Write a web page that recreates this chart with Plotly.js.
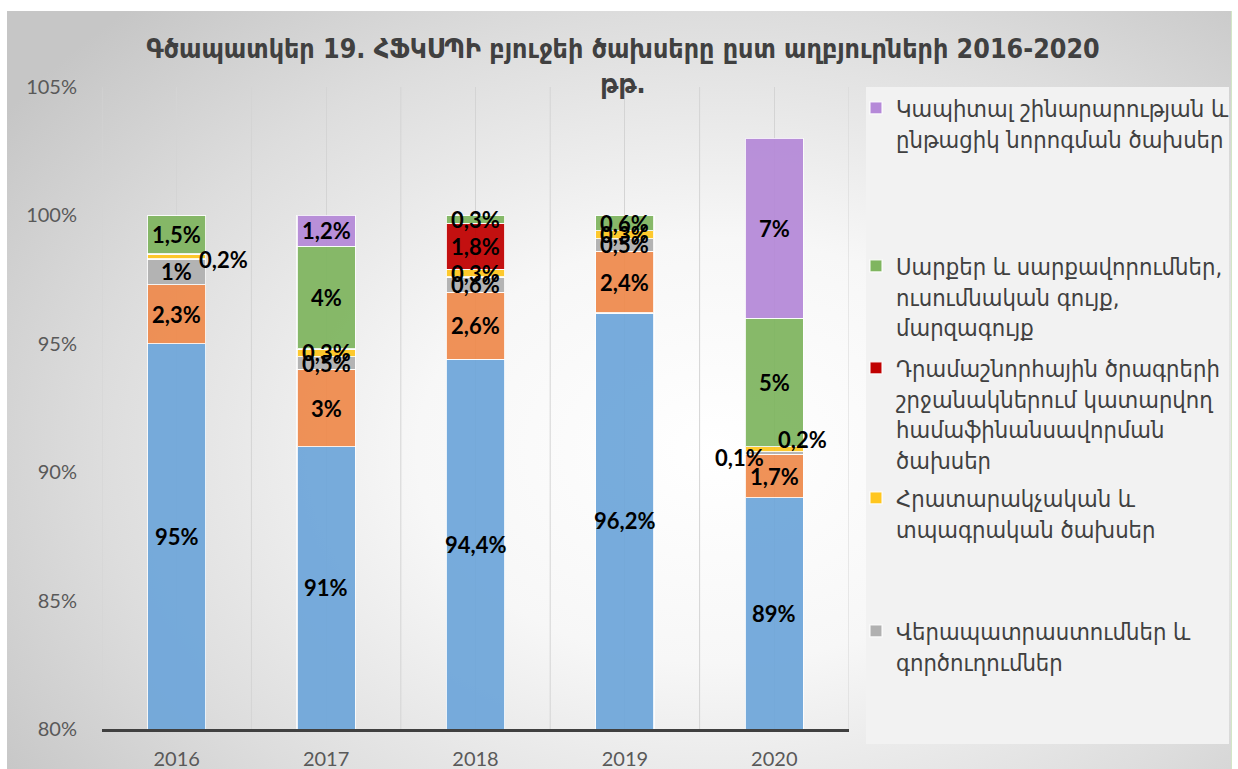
<!DOCTYPE html>
<html>
<head>
<meta charset="utf-8">
<script src="https://cdn.plot.ly/plotly-3.0.1.min.js"></script>
<style>
  html, body { margin: 0; padding: 0; background: #ffffff; }
  #wrap { position: relative; width: 1238px; height: 769px; overflow: hidden; }
  #bg { position: absolute; left: 7px; top: 11px; width: 1224px; height: 758px;
        background: radial-gradient(ellipse 70% 80% at 58% 58%, #ffffff 0%, #f7f7f7 35%, #dddddd 72%, #c6c6c6 100%);
        border-right: 1px solid #d3e6c6; }
  #chart { position: absolute; left: 0; top: 0; width: 1238px; height: 769px; }
</style>
</head>
<body>
<div id="wrap"><div id="bg"></div><div id="chart"></div></div>
<script>
// ---- data ----
const years = ['2016', '2017', '2018', '2019', '2020'];
const seriesNames = [
  'Հիմնական ծախսեր',
  'Այլ ծախսեր',
  'Վերապատրաստումներ և<br>գործուղումներ',
  'Հրատարակչական և<br>տպագրական ծախսեր',
  'Դրամաշնորհային ծրագրերի<br>շրջանակներում կատարվող<br>համաֆինանսավորման<br>ծախսեր',
  'Սարքեր և սարքավորումներ,<br>ուսումնական գույք,<br>մարզագույք',
  'Կապիտալ շինարարության և<br>ընթացիկ նորոգման ծախսեր'
];
const blueVals   = [95, 91, 94.4, 96.2, 89];
const orangeVals = [2.3, 3, 2.6, 2.4, 1.7];
const grayVals   = [1, 0.5, 0.6, 0.5, 0.1];
const yellowVals = [0.2, 0.3, 0.3, 0.3, 0.2];
const redVals    = [0, 0, 1.8, 0, 0];
const greenVals  = [1.5, 4, 0.3, 0.6, 5];
const purpleVals = [0, 1.2, 0, 0, 7];
const yRange = [80, 105];

// ---- styles ----
const allVals = [blueVals, orangeVals, grayVals, yellowVals, redVals, greenVals, purpleVals];
const colors = ['#6ea6da', '#ef8a4c', '#b0b0b0', '#ffc61e', '#c00000', '#7fb55f', '#b589d8'];
const legendIds = [null, null, 'legend5', 'legend4', 'legend3', 'legend2', 'legend'];
// label offsets in px: key "seriesIndex|yearIndex" -> [xshift, yshift]
const labelShift = { '3|0': [47, -3], '2|4': [-35, -5], '3|4': [28, 10] };

const armFont = '"DejaVu Sans Condensed", "DejaVu Sans", sans-serif';
const numFont = 'Lato, "Open Sans", sans-serif';

const traces = allVals.map((vals, i) => ({
  type: 'bar',
  x: years,
  y: vals,
  name: seriesNames[i],
  showlegend: legendIds[i] !== null,
  legend: legendIds[i] || 'legend',
  marker: { color: colors[i], opacity: 0.93, line: { color: 'rgba(255,255,255,0.85)', width: 1.2 } },
  hoverinfo: 'skip'
}));

// data labels: centred in the visible part of each stacked segment
const annotations = [];
const cum = years.map(() => 0);
allVals.forEach((vals, si) => {
  vals.forEach((v, yi) => {
    if (v > 0) {
      const lo = Math.max(cum[yi], yRange[0]);
      const mid = (lo + cum[yi] + v) / 2;
      const sh = labelShift[si + '|' + yi] || [0, 0];
      annotations.push({
        x: yi, y: mid, xref: 'x', yref: 'y',
        text: '<b>' + String(v).replace('.', ',') + '%</b>',
        showarrow: false, xshift: sh[0], yshift: sh[1],
        font: { family: numFont, size: 22, color: '#000000' }
      });
    }
    cum[yi] += v;
  });
});

// vertical lines at category boundaries
const shapes = [];
for (let k = 0; k <= years.length; k++) {
  shapes.push({ type: 'line', xref: 'x', yref: 'paper', x0: k - 0.5, x1: k - 0.5, y0: 0, y1: 1,
                line: { color: '#d4d4d4', width: 1 }, layer: 'below' });
}
// legend panel
shapes.push({ type: 'rect', xref: 'paper', yref: 'paper', x0: (866 - 102) / 747, x1: (1229 - 102) / 747,
              y0: (729 - 744) / 642, y1: 1.0, fillcolor: '#f2f2f2', line: { width: 0 }, layer: 'below' });

function cy(p) { return 1 - p / 769; }
const legBase = { x: 856 / 1238, xref: 'container', yref: 'container', xanchor: 'left', yanchor: 'top',
                  bgcolor: 'rgba(0,0,0,0)', valign: 'top',
                  itemwidth: 30, font: { family: armFont, size: 23.6, color: '#404040' } };
const layout = {
  width: 1238, height: 769,
  paper_bgcolor: 'rgba(0,0,0,0)', plot_bgcolor: 'rgba(0,0,0,0)',
  margin: { l: 102, r: 389, t: 87, b: 40 },
  barmode: 'stack', bargap: 0.61,
  title: { text: 'Գծապատկեր 19. ՀՖԿՍՊԻ բյուջեի ծախսերը ըստ աղբյուրների 2016-2020<br>թթ.',
           x: 623 / 1238, xanchor: 'center', y: 0.9245, yanchor: 'top',
           font: { family: armFont, size: 26.6, color: '#404040', weight: 'bold' } },
  xaxis: { type: 'category', range: [-0.5, 4.5], showgrid: true, gridcolor: '#d4d4d4', gridwidth: 1,
           showline: true, linecolor: '#404040', linewidth: 3, zeroline: false,
           ticks: 'outside', ticklen: 10, tickcolor: 'rgba(0,0,0,0)', automargin: false,
           tickfont: { family: numFont, size: 20, color: '#595959' }, fixedrange: true },
  yaxis: { range: yRange, tick0: 80, dtick: 5, ticksuffix: '%', showgrid: false, zeroline: false,
           showline: false, ticks: 'outside', ticklen: 20, tickcolor: 'rgba(0,0,0,0)', automargin: false,
           tickfont: { family: numFont, size: 20, color: '#595959' }, fixedrange: true },
  legend:  Object.assign({}, legBase, { y: cy(107 - 21) }),
  legend2: Object.assign({}, legBase, { y: cy(265 - 21) }),
  legend3: Object.assign({}, legBase, { y: cy(367 - 21) }),
  legend4: Object.assign({}, legBase, { y: cy(497 - 21) }),
  legend5: Object.assign({}, legBase, { y: cy(630 - 21) }),
  annotations: annotations,
  shapes: shapes
};

Plotly.newPlot('chart', traces, layout, { displayModeBar: false, staticPlot: true });
</script>
</body>
</html>
